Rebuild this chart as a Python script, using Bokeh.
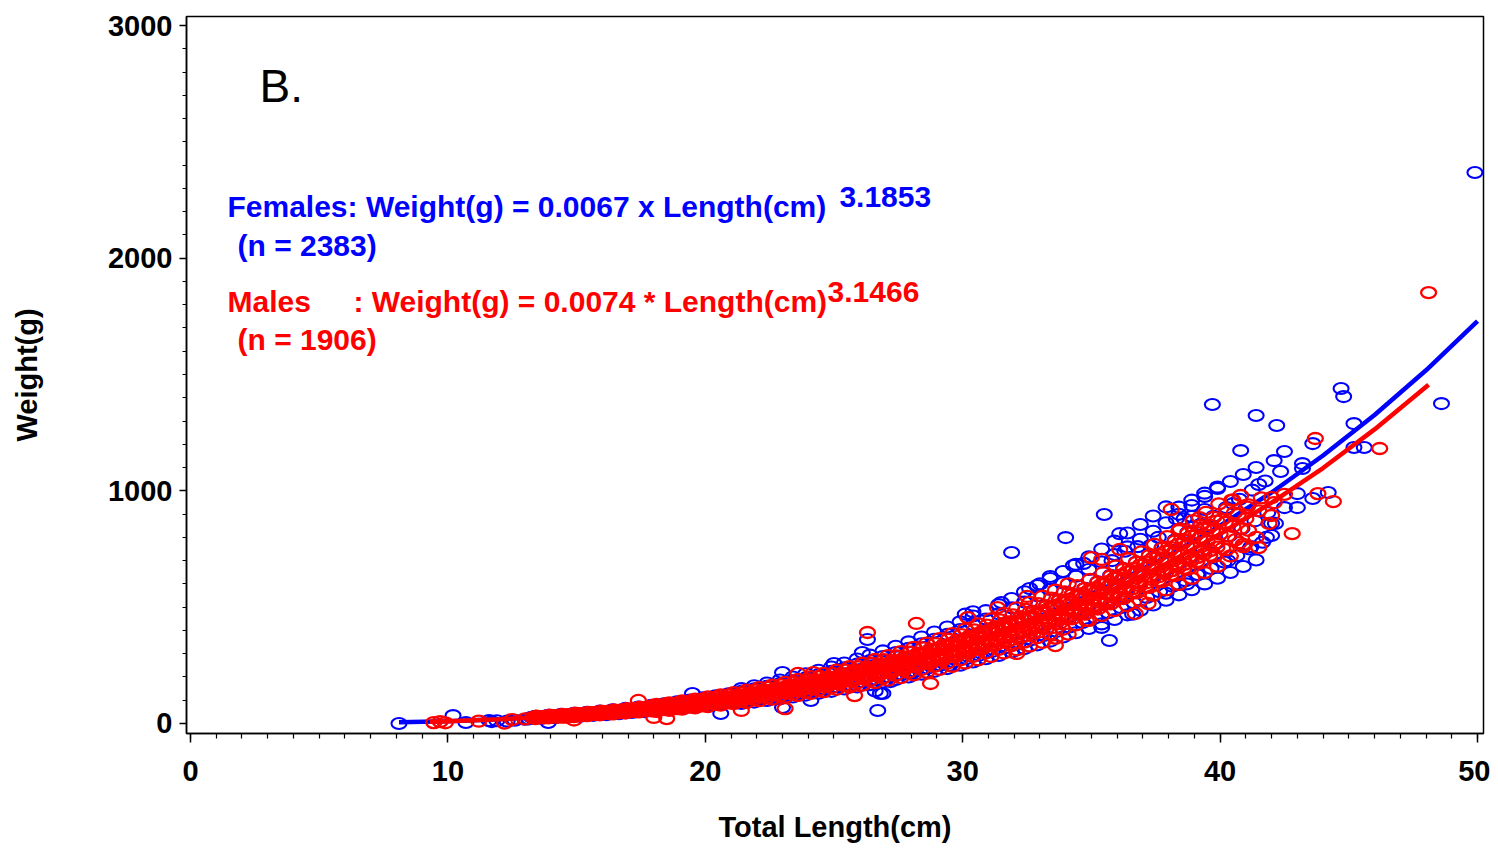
from bokeh.plotting import figure
from bokeh.models import Range1d, SingleIntervalTicker, Label, ColumnDataSource, BasicTickFormatter
from bokeh.embed import file_html
from bokeh.resources import INLINE

# ---------------- data ----------------
# Females (blue) scatter: total length (cm) and weight (g)
fem_len = [
    8.1, 10.2, 10.7, 11.6, 11.9, 11.7, 12.6, 13.0, 13.9, 12.3,
    13.15, 13.35, 13.25, 13.4,
    13.65, 13.85, 13.75, 13.9,
    14.15, 14.35, 14.25, 14.4,
    14.65, 14.85, 14.75, 14.9,
    15.15, 15.35, 15.25, 15.4,
    15.65, 15.85, 15.75, 15.9,
    16.15, 16.35, 16.25, 16.4,
    16.65, 16.85, 16.75, 16.9,
    17.15, 17.35, 17.25, 17.4,
    17.65, 17.85, 17.75, 17.9,
    18.15, 18.35, 18.25, 18.4,
    18.65, 18.85, 18.75, 18.9,
    19.15, 19.35, 19.25, 19.4,
    19.65, 19.85, 19.75, 19.9,
    20.15, 20.35, 20.25, 20.4,
    20.65, 20.85, 20.75, 20.9,
    21.15, 21.35, 21.25, 21.4,
    21.65, 21.85, 21.75, 21.9,
    22.15, 22.35, 22.25, 22.4,
    22.65, 22.85, 22.75, 22.9,
    23.15, 23.35, 23.25, 23.4,
    23.65, 23.85, 23.75, 23.9,
    24.15, 24.35, 24.25, 24.4,
    24.65, 24.85, 24.75, 24.9,
    25.15, 25.35, 25.25, 25.4,
    25.65, 25.85, 25.75, 25.9,
    26.15, 26.35, 26.25, 26.4,
    26.65, 26.85, 26.75, 26.9,
    27.15, 27.35, 27.25, 27.4,
    27.65, 27.85, 27.75, 27.9,
    28.15, 28.35, 28.25, 28.4,
    28.65, 28.85, 28.75, 28.9,
    29.15, 29.35, 29.25, 29.4,
    29.65, 29.85, 29.75, 29.9,
    30.15, 30.35, 30.25, 30.4,
    30.65, 30.85, 30.75, 30.9,
    31.15, 31.35, 31.25, 31.4,
    31.65, 31.85, 31.75, 31.9,
    32.15, 32.35, 32.25, 32.4,
    32.65, 32.85, 32.75, 32.9,
    33.15, 33.35, 33.25, 33.4,
    33.65, 33.85, 33.75, 33.9,
    34.15, 34.35, 34.25, 34.4,
    34.65, 34.85, 34.75, 34.9,
    35.15, 35.35, 35.25, 35.4,
    35.65, 35.85, 35.75, 35.9,
    36.15, 36.35, 36.25, 36.4,
    36.65, 36.85, 36.75, 36.9,
    37.15, 37.35, 37.25, 37.4,
    37.65, 37.85, 37.75, 37.9,
    38.15, 38.35, 38.25, 38.4,
    38.65, 38.85, 38.75, 38.9,
    39.15, 39.35, 39.25, 39.4,
    39.65, 39.85, 39.75, 39.9,
    40.15, 40.35, 40.25,
    40.65, 40.85, 40.75,
    41.15, 41.35, 41.25,
    41.65, 41.85, 41.75,
    42.15, 42.35,
    # scattered / outlying females
    49.9, 48.6, 44.7, 44.8, 39.7, 41.4, 42.2, 40.8, 42.5, 42.1,
    43.2, 43.2, 43.6, 45.2, 45.6, 45.2, 41.5, 43.0, 44.2, 43.6,
    42.5, 43.0, 42.0, 42.0, 40.5, 35.5, 34.0, 31.9, 36.1, 33.4,
    35.7, 35.4, 26.7, 26.6, 26.9, 26.1, 26.3, 23.0, 25.0, 24.1,
    23.0, 20.6, 19.5, 30.1, 30.4, 31.5, 32.6, 33.0, 34.3, 34.7,
    35.8, 36.3, 36.8, 37.3, 37.6, 38.3, 38.6, 38.9, 39.4, 36.6,
    37.9, 38.7, 39.1, 40.3, 41.2, 41.8, 26.8, 28.0, 29.5, 27.2,
]
fem_wt = [
    0, 34, 4, 13, 12, 8, 14, 18, 4, 10,
    20, 24, 27, 31,
    22, 27, 31, 35,
    25, 30, 34, 39,
    28, 33, 38, 44,
    31, 37, 42, 48,
    35, 41, 47, 53,
    38, 45, 52, 59,
    42, 49, 57, 65,
    47, 54, 62, 71,
    51, 60, 68, 78,
    56, 65, 75, 85,
    61, 71, 82, 93,
    66, 77, 89, 101,
    72, 84, 96, 110,
    78, 90, 104, 119,
    84, 98, 112, 128,
    90, 105, 121, 138,
    98, 113, 131, 149,
    105, 122, 140, 160,
    113, 131, 151, 172,
    121, 140, 162, 184,
    129, 150, 172, 196,
    138, 160, 184, 210,
    147, 171, 197, 224,
    157, 182, 210, 239,
    167, 194, 224, 255,
    178, 206, 238, 271,
    189, 219, 253, 288,
    200, 233, 268, 305,
    212, 246, 284, 323,
    225, 261, 301, 343,
    238, 276, 318, 362,
    251, 292, 336, 383,
    265, 308, 354, 404,
    279, 325, 373, 426,
    294, 342, 394, 449,
    310, 360, 414, 472,
    326, 379, 435, 497,
    342, 398, 458, 522,
    360, 419, 482, 549,
    378, 439, 505, 576,
    396, 460, 530, 604,
    415, 483, 555, 633,
    434, 505, 581, 662,
    455, 529, 609, 694,
    476, 553, 637, 726,
    498, 578, 666, 759,
    519, 604, 694, 792,
    542, 630, 724, 826,
    566, 658, 756, 863,
    590, 685, 789, 899,
    614, 714, 822, 937,
    640, 744, 856, 976,
    666, 775, 891, 1016,
    694, 806, 928,
    721, 838, 964,
    750, 871, 1003,
    779, 906, 1042,
    860, 1083,
    2368, 1375, 1440, 1405, 1371, 1324, 1281, 1173, 1169, 1130,
    1117, 1096, 1203, 1289, 1186, 1186, 1027, 988, 993, 967,
    928, 928, 860, 808, 945, 898, 799, 735, 816, 632,
    357, 413, 56, 140, 129, 305, 361, 219, 258, 99,
    69, 43, 129, 470, 480, 520, 580, 600, 679, 688,
    700, 740, 760, 765, 800, 880, 880, 890, 920, 470,
    560, 600, 640, 700, 760, 800, 129, 215, 250, 180,
]

# females along the upper and lower edges of the band
fem_len2 = [
    21.4, 21.4, 21.9, 21.9, 22.4, 22.4, 22.9, 22.9, 23.4, 23.4, 23.9, 23.9,
    24.4, 24.4, 24.9, 24.9, 25.4, 25.4, 25.9, 25.9, 26.4, 26.4, 26.9, 26.9,
    27.4, 27.4, 27.9, 27.9, 28.4, 28.4, 28.9, 28.9, 29.4, 29.4, 29.9, 29.9,
    30.4, 30.4, 30.9, 30.9, 31.4, 31.4, 31.9, 31.9, 32.4, 32.4, 32.9, 32.9,
    33.4, 33.4, 33.9, 33.9, 34.4, 34.4, 34.9, 34.9, 35.4, 35.4, 35.9, 35.9,
    36.4, 36.4, 36.9, 36.9, 37.4, 37.4, 37.9, 37.9, 38.4, 38.4, 38.9, 38.9,
    39.4, 39.4, 39.9, 39.9, 40.4, 40.4, 40.9, 40.9, 41.4, 41.4,
]
fem_wt2 = [
    150, 86, 162, 92, 174, 99, 187, 106, 200, 114, 214, 122,
    229, 130, 243, 138, 260, 148, 277, 157, 294, 167, 312, 178,
    332, 189, 351, 200, 372, 212, 393, 224, 415, 236, 437, 250,
    462, 264, 485, 278, 511, 292, 537, 307, 566, 322, 593, 338,
    623, 354, 653, 372, 684, 390, 716, 408, 750, 428, 784, 447,
    819, 467, 855, 487, 892, 509, 931, 530, 930, 553, 960, 575,
    990, 600, 1010, 624, 1040, 649, 1070, 675, 1100, 703,
]

# Males (red) scatter
male_len = [
    9.45, 9.9, 9.7, 12.2, 12.5, 13.3, 13.0, 14.6, 14.9, 11.2,
    13.4, 13.6, 13.5, 13.55, 13.45,
    13.9, 14.1, 14.0, 14.05, 13.95,
    14.4, 14.6, 14.5, 14.55, 14.45,
    14.9, 15.1, 15.0, 15.05, 14.95,
    15.4, 15.6, 15.5, 15.55, 15.45,
    15.9, 16.1, 16.0, 16.05, 15.95,
    16.4, 16.6, 16.5, 16.55, 16.45,
    16.9, 17.1, 17.0, 17.05, 16.95,
    17.4, 17.6, 17.5, 17.55, 17.45,
    17.9, 18.1, 18.0, 18.05, 17.95,
    18.4, 18.6, 18.5, 18.55, 18.45,
    18.9, 19.1, 19.0, 19.05, 18.95,
    19.4, 19.6, 19.5, 19.55, 19.45,
    19.9, 20.1, 20.0, 20.05, 19.95,
    20.4, 20.6, 20.5, 20.55, 20.45,
    20.9, 21.1, 21.0, 21.05, 20.95,
    21.4, 21.6, 21.5, 21.55, 21.45,
    21.9, 22.1, 22.0, 22.05, 21.95,
    22.4, 22.6, 22.5, 22.55, 22.45,
    22.9, 23.1, 23.0, 23.05, 22.95,
    23.4, 23.6, 23.5, 23.55, 23.45,
    23.9, 24.1, 24.0, 24.05, 23.95,
    24.4, 24.6, 24.5, 24.55, 24.45,
    24.9, 25.1, 25.0, 25.05, 24.95,
    25.4, 25.6, 25.5, 25.55, 25.45,
    25.9, 26.1, 26.0, 26.05, 25.95,
    26.4, 26.6, 26.5, 26.55, 26.45,
    26.9, 27.1, 27.0, 27.05, 26.95,
    27.4, 27.6, 27.5, 27.55, 27.45,
    27.9, 28.1, 28.0, 28.05, 27.95,
    28.4, 28.6, 28.5, 28.55, 28.45,
    28.9, 29.1, 29.0, 29.05, 28.95,
    29.4, 29.6, 29.5, 29.55, 29.45,
    29.9, 30.1, 30.0, 30.05, 29.95,
    30.4, 30.6, 30.5, 30.55, 30.45,
    30.9, 31.1, 31.0, 31.05, 30.95,
    31.4, 31.6, 31.5, 31.55, 31.45,
    31.9, 32.1, 32.0, 32.05, 31.95,
    32.4, 32.6, 32.5, 32.55, 32.45,
    32.9, 33.1, 33.0, 33.05, 32.95,
    33.4, 33.6, 33.5, 33.55, 33.45,
    33.9, 34.1, 34.0, 34.05, 33.95,
    34.4, 34.6, 34.5, 34.55, 34.45,
    34.9, 35.1, 35.0, 35.05, 34.95,
    35.4, 35.6, 35.5, 35.55, 35.45,
    35.9, 36.1, 36.0, 36.05, 35.95,
    36.4, 36.6, 36.5, 36.55, 36.45,
    36.9, 37.1, 37.0, 37.05, 36.95,
    37.4, 37.6, 37.5, 37.55, 37.45,
    37.9, 38.1, 38.0, 38.05, 37.95,
    38.4, 38.6, 38.5, 38.55, 38.45,
    38.9, 39.1, 39.0, 39.05, 38.95,
    39.4, 39.6, 39.5, 39.55, 39.45,
    39.9, 40.1, 40.0, 40.05, 39.95,
    40.4, 40.6, 40.5, 40.55, 40.45,
    40.9, 41.1, 41.0, 41.05,
    41.4, 41.5, 41.6,
    41.9, 42.1,
    42.5,
    # scattered / outlying males
    48.1, 46.2, 44.4, 42.8, 43.7, 43.8, 26.3, 28.2, 28.75, 40.9,
    41.5, 42.0, 42.0, 40.8, 39.2, 38.1, 38.4, 36.7, 37.2, 32.1,
    34.8, 35.0, 35.4, 36.1, 31.35, 32.5, 30.2, 33.6, 25.8, 23.6,
    24.2, 23.1, 21.4, 18.5, 17.4, 18.0, 40.5, 41.1,
]
male_wt = [
    4, 3, 8, 2, 17, 26, 20, 27, 15, 10,
    21, 24, 27, 29, 32,
    24, 27, 30, 33, 36,
    27, 31, 33, 36, 39,
    30, 34, 37, 40, 44,
    34, 38, 41, 44, 48,
    37, 42, 45, 49, 53,
    41, 46, 50, 54, 58,
    45, 51, 55, 59, 64,
    50, 55, 60, 65, 70,
    54, 61, 66, 71, 77,
    60, 66, 72, 77, 84,
    64, 72, 78, 84, 91,
    70, 78, 85, 91, 98,
    76, 85, 92, 99, 107,
    82, 91, 99, 107, 115,
    89, 99, 107, 115, 124,
    95, 106, 115, 124, 134,
    103, 114, 124, 133, 144,
    110, 123, 133, 143, 155,
    118, 132, 143, 154, 166,
    127, 141, 153, 165, 178,
    135, 150, 163, 176, 190,
    144, 160, 174, 187, 202,
    154, 171, 185, 199, 215,
    164, 182, 197, 212, 229,
    174, 194, 210, 226, 244,
    185, 206, 223, 240, 259,
    196, 218, 236, 254, 274,
    208, 231, 250, 269, 290,
    220, 245, 265, 285, 307,
    232, 259, 280, 301, 325,
    246, 274, 296, 318, 343,
    259, 289, 312, 335, 362,
    273, 304, 329, 354, 382,
    288, 321, 347, 373, 402,
    303, 338, 365, 392, 423,
    319, 355, 384, 413, 445,
    335, 373, 403, 433, 467,
    351, 391, 423, 455, 491,
    369, 411, 444, 477, 515,
    386, 430, 465, 500, 539,
    405, 451, 488, 525, 566,
    424, 473, 511, 549, 593,
    443, 494, 534, 574, 619,
    464, 517, 559, 601, 648,
    485, 540, 584, 628, 677,
    506, 564, 610, 656, 708,
    528, 588, 636, 684, 738,
    551, 614, 664, 714, 770,
    574, 640, 692, 744, 803,
    598, 667, 721, 775, 836,
    624, 696, 752, 808, 872,
    649, 723, 782, 841, 907,
    676, 753, 814, 875, 944,
    720, 790, 847, 905, 960,
    760, 830, 880, 930,
    800, 914, 970,
    860, 949,
    985,
    1852, 1182, 954, 816, 1225, 988, 391, 430, 172, 770,
    756, 971, 894, 980, 885, 920, 829, 473, 516, 301,
    443, 713, 705, 748, 498, 546, 455, 335, 120, 215,
    219, 64, 56, 21, 99, 26, 960, 940,
]

# more males in the dense band (between the lengths above)
male_len2 = [
    13.75, 13.8, 13.7, 13.75, 14.25, 14.3, 14.2, 14.25, 14.75, 14.8, 14.7, 14.75,
    15.25, 15.3, 15.2, 15.25, 15.75, 15.8, 15.7, 15.75, 16.25, 16.3, 16.2, 16.25,
    16.75, 16.8, 16.7, 16.75, 17.25, 17.3, 17.2, 17.25, 17.75, 17.8, 17.7, 17.75,
    18.25, 18.3, 18.2, 18.25, 18.75, 18.8, 18.7, 18.75, 19.25, 19.3, 19.2, 19.25,
    19.75, 19.8, 19.7, 19.75, 20.25, 20.3, 20.2, 20.25, 20.75, 20.8, 20.7, 20.75,
    21.25, 21.3, 21.2, 21.25, 21.75, 21.8, 21.7, 21.75, 22.25, 22.3, 22.2, 22.25,
    22.75, 22.8, 22.7, 22.75, 23.25, 23.3, 23.2, 23.25, 23.75, 23.8, 23.7, 23.75,
    24.25, 24.3, 24.2, 24.25, 24.75, 24.8, 24.7, 24.75, 25.25, 25.3, 25.2, 25.25,
    25.75, 25.8, 25.7, 25.75, 26.25, 26.3, 26.2, 26.25, 26.75, 26.8, 26.7, 26.75,
    27.25, 27.3, 27.2, 27.25, 27.75, 27.8, 27.7, 27.75, 28.25, 28.3, 28.2, 28.25,
    28.75, 28.8, 28.7, 28.75, 29.25, 29.3, 29.2, 29.25, 29.75, 29.8, 29.7, 29.75,
    30.25, 30.3, 30.2, 30.25, 30.75, 30.8, 30.7, 30.75, 31.25, 31.3, 31.2, 31.25,
    31.75, 31.8, 31.7, 31.75, 32.25, 32.3, 32.2, 32.25, 32.75, 32.8, 32.7, 32.75,
    33.25, 33.3, 33.2, 33.25, 33.75, 33.8, 33.7, 33.75, 34.25, 34.3, 34.2, 34.25,
    34.75, 34.8, 34.7, 34.75, 35.25, 35.3, 35.2, 35.25, 35.75, 35.8, 35.7, 35.75,
    36.25, 36.3, 36.2, 36.25, 36.75, 36.8, 36.7, 36.75, 37.25, 37.3, 37.2, 37.25,
    37.75, 37.8, 37.7, 37.75, 38.25, 38.3, 38.2, 38.25, 38.75, 38.8, 38.7, 38.75,
    39.25, 39.3, 39.2, 39.25, 39.75, 39.8, 39.7, 39.75, 40.25, 40.3, 40.2, 40.25,
    40.75, 40.8, 40.7,
]
male_wt2 = [
    25, 27, 29, 31, 28, 31, 33, 35, 32, 34, 37, 39,
    35, 38, 41, 43, 39, 42, 45, 48, 43, 46, 50, 53,
    47, 51, 55, 58, 52, 56, 60, 64, 57, 61, 66, 70,
    62, 67, 72, 76, 68, 73, 78, 83, 73, 79, 85, 90,
    79, 86, 92, 98, 86, 93, 99, 106, 93, 100, 107, 114,
    100, 108, 115, 123, 108, 116, 124, 133, 116, 125, 134, 143,
    124, 134, 144, 153, 133, 144, 154, 164, 142, 153, 164, 175,
    152, 163, 175, 187, 162, 174, 187, 199, 172, 185, 199, 212,
    183, 197, 212, 226, 195, 210, 225, 240, 207, 223, 239, 255,
    219, 236, 253, 270, 232, 250, 268, 286, 245, 264, 283, 302,
    259, 279, 300, 320, 274, 295, 316, 337, 288, 311, 333, 356,
    304, 328, 352, 375, 320, 345, 370, 395, 337, 363, 389, 416,
    354, 382, 409, 437, 372, 401, 430, 458, 390, 420, 451, 481,
    409, 441, 473, 504, 429, 462, 496, 529, 450, 485, 519, 554,
    470, 507, 543, 580, 492, 530, 568, 607, 514, 554, 594, 634,
    537, 579, 621, 663, 561, 604, 648, 692, 585, 631, 676, 722,
    610, 658, 705, 753, 636, 685, 735, 784, 663, 714, 766, 818,
    690, 744, 798, 851, 718, 774, 830, 886, 747, 806, 864, 922,
    777, 838, 898,
]

# males along the upper and lower edges of the band
male_len3 = [
    18.1, 18.1, 18.6, 18.6, 19.1, 19.1, 19.6, 19.6, 20.1, 20.1, 20.6, 20.6,
    21.1, 21.1, 21.6, 21.6, 22.1, 22.1, 22.6, 22.6, 23.1, 23.1, 23.6, 23.6,
    24.1, 24.1, 24.6, 24.6, 25.1, 25.1, 25.6, 25.6, 26.1, 26.1, 26.6, 26.6,
    27.1, 27.1, 27.6, 27.6, 28.1, 28.1, 28.6, 28.6, 29.1, 29.1, 29.6, 29.6,
    30.1, 30.1, 30.6, 30.6, 31.1, 31.1, 31.6, 31.6, 32.1, 32.1, 32.6, 32.6,
    33.1, 33.1, 33.6, 33.6, 34.1, 34.1,
]
male_wt3 = [
    82, 52, 89, 57, 97, 62, 105, 67, 114, 73, 123, 79,
    133, 85, 143, 91, 154, 98, 165, 105, 177, 113, 189, 121,
    201, 129, 215, 137, 229, 147, 244, 156, 259, 165, 275, 176,
    292, 186, 309, 197, 327, 209, 345, 221, 365, 233, 386, 246,
    406, 260, 428, 274, 450, 288, 473, 303, 497, 317, 521, 333,
    547, 349, 573, 367, 600, 384,
]

# males filling the middle of the band
male_len4 = [
    15.125, 15.125, 15.375, 15.375, 15.625, 15.625, 15.875, 15.875,
    16.125, 16.125, 16.375, 16.375, 16.625, 16.625, 16.875, 16.875,
    17.125, 17.125, 17.375, 17.375, 17.625, 17.625, 17.875, 17.875,
    18.125, 18.125, 18.375, 18.375, 18.625, 18.625, 18.875, 18.875,
    19.125, 19.125, 19.375, 19.375, 19.625, 19.625, 19.875, 19.875,
    20.125, 20.125, 20.375, 20.375, 20.625, 20.625, 20.875, 20.875,
    21.125, 21.125, 21.375, 21.375, 21.625, 21.625, 21.875, 21.875,
    22.125, 22.125, 22.375, 22.375, 22.625, 22.625, 22.875, 22.875,
    23.125, 23.125, 23.375, 23.375, 23.625, 23.625, 23.875, 23.875,
    24.125, 24.125, 24.375, 24.375, 24.625, 24.625, 24.875, 24.875,
    25.125, 25.125, 25.375, 25.375, 25.625, 25.625, 25.875, 25.875,
    26.125, 26.125, 26.375, 26.375, 26.625, 26.625, 26.875, 26.875,
    27.125, 27.125, 27.375, 27.375, 27.625, 27.625, 27.875, 27.875,
    28.125, 28.125, 28.375, 28.375, 28.625, 28.625, 28.875, 28.875,
    29.125, 29.125, 29.375, 29.375, 29.625, 29.625, 29.875, 29.875,
    30.125, 30.125, 30.375, 30.375, 30.625, 30.625, 30.875, 30.875,
    31.125, 31.125, 31.375, 31.375, 31.625, 31.625, 31.875, 31.875,
    32.125, 32.125, 32.375, 32.375, 32.625, 32.625, 32.875, 32.875,
    33.125, 33.125, 33.375, 33.375, 33.625, 33.625, 33.875, 33.875,
    34.125, 34.125, 34.375, 34.375, 34.625, 34.625, 34.875, 34.875,
    35.125, 35.125, 35.375, 35.375, 35.625, 35.625, 35.875, 35.875,
    36.125, 36.125, 36.375, 36.375, 36.625, 36.625, 36.875, 36.875,
    37.125, 37.125, 37.375, 37.375, 37.625, 37.625, 37.875, 37.875,
    38.125, 38.125, 38.375, 38.375, 38.625, 38.625, 38.875, 38.875,
    39.125, 39.125, 39.375, 39.375, 39.625, 39.625, 39.875, 39.875,
]
male_wt4 = [
    36, 41, 38, 43, 40, 46, 42, 48,
    44, 50, 46, 53, 48, 55, 51, 58,
    53, 61, 55, 64, 58, 67, 61, 70,
    63, 73, 66, 76, 69, 79, 72, 83,
    75, 86, 78, 90, 81, 93, 85, 97,
    88, 101, 91, 105, 95, 109, 99, 113,
    102, 118, 106, 122, 110, 126, 115, 132,
    118, 136, 123, 141, 127, 146, 132, 152,
    137, 157, 141, 163, 146, 168, 151, 173,
    156, 179, 161, 185, 166, 191, 171, 197,
    177, 203, 182, 210, 188, 216, 195, 224,
    200, 230, 207, 238, 212, 244, 219, 252,
    225, 259, 232, 266, 239, 274, 245, 282,
    253, 291, 259, 298, 267, 307, 274, 315,
    282, 324, 290, 333, 297, 341, 306, 351,
    313, 360, 322, 370, 330, 380, 339, 389,
    348, 400, 356, 409, 366, 420, 374, 430,
    384, 441, 393, 451, 402, 462, 413, 474,
    422, 485, 432, 497, 443, 509, 453, 521,
    464, 534, 475, 545, 486, 558, 496, 570,
    508, 583, 520, 597, 531, 610, 543, 624,
    555, 638, 567, 652, 580, 666, 592, 680,
    604, 694, 618, 710, 631, 725, 644, 740,
    657, 755, 671, 771, 685, 787, 699, 804,
    714, 820, 728, 836, 743, 853, 758, 870,
]

# Fitted length-weight curves
fem_fit_len = [8.1, 10, 12, 14, 16, 18, 20, 22, 24, 26, 28, 30, 32, 34, 36, 38, 40, 42, 44, 46, 48, 50]
fem_fit_wt = [5, 10, 18, 30, 46, 67, 93, 127, 167, 216, 273, 340, 417, 507, 608, 722, 850, 993, 1152, 1326, 1518, 1729]
male_fit_len = [9.3, 10, 12, 14, 16, 18, 20, 22, 24, 26, 28, 30, 32, 34, 36, 38, 40, 42, 44, 46, 48.1]
male_fit_wt = [8, 10, 18, 30, 46, 66, 92, 124, 163, 210, 265, 329, 403, 488, 584, 692, 814, 949, 1098, 1264, 1456]

x_ticks_major = 10
y_ticks_major = 1000

BLUE = "#0000FF"
RED = "#FF0000"
FONT = "Liberation Sans"

p = figure(width=1490, height=848, output_backend="svg", toolbar_location=None,
           x_range=Range1d(-0.155, 50.233), y_range=Range1d(-43.0, 3038.7),
           min_border_left=186, min_border_right=7, min_border_top=16, min_border_bottom=115)
p.background_fill_color = "white"
p.border_fill_color = "white"
p.outline_line_color = "black"
p.outline_line_width = 1.5
p.xgrid.visible = False
p.ygrid.visible = False

p.xaxis.ticker = SingleIntervalTicker(interval=x_ticks_major, num_minor_ticks=10)
p.yaxis.ticker = SingleIntervalTicker(interval=y_ticks_major, num_minor_ticks=10)
p.yaxis.formatter = BasicTickFormatter(use_scientific=False)
for ax in (p.xaxis, p.yaxis):
    ax.axis_line_color = "black"
    ax.axis_line_width = 1.5
    ax.major_tick_line_color = "black"
    ax.minor_tick_line_color = "black"
    ax.major_tick_line_width = 1.5
    ax.minor_tick_line_width = 1.2
    ax.major_tick_in = 0
    ax.minor_tick_in = 0
    ax.major_label_text_font = FONT
    ax.major_label_text_font_style = "bold"
    ax.major_label_text_font_size = "29px"
    ax.major_label_text_color = "black"
    ax.axis_label_text_font = FONT
    ax.axis_label_text_font_style = "bold"
    ax.axis_label_text_font_size = "29px"
    ax.axis_label_text_color = "black"

p.xaxis.major_tick_out = 9
p.xaxis.minor_tick_out = 5
p.yaxis.major_tick_out = 7
p.yaxis.minor_tick_out = 4
p.xaxis.major_label_standoff = 18
p.yaxis.major_label_standoff = 7
p.xaxis.axis_label = "Total Length(cm)"
p.yaxis.axis_label = "Weight(g)"
p.xaxis.axis_label_standoff = 27
p.yaxis.axis_label_standoff = 62

fsrc = ColumnDataSource(dict(x=fem_len + fem_len2, y=fem_wt + fem_wt2))
msrc = ColumnDataSource(dict(x=male_len + male_len2 + male_len3 + male_len4,
                             y=male_wt + male_wt2 + male_wt3 + male_wt4))
p.ellipse(x="x", y="y", width=15, height=11, width_units="screen", height_units="screen",
          source=fsrc, fill_color=None, line_color=BLUE, line_width=2.1)
p.line(fem_fit_len, fem_fit_wt, line_color=BLUE, line_width=4.5)
p.line(male_fit_len, male_fit_wt, line_color=RED, line_width=4.5)
p.ellipse(x="x", y="y", width=15, height=11, width_units="screen", height_units="screen",
          source=msrc, fill_color=None, line_color=RED, line_width=2.3)

def lab(x, y, text, color, size="30px", style="bold"):
    p.add_layout(Label(x=x, y=y, text=text, text_color=color, text_font=FONT,
                       text_font_size=size, text_font_style=style,
                       text_baseline="alphabetic", text_align="left"))

lab(2.68, 2741, "B.", "black", size="46px", style="normal")
lab(1.437, 2222, "Females: Weight(g) = 0.0067 x Length(cm)", BLUE)
lab(25.21, 2261, "3.1853", BLUE)
lab(1.826, 2055, "(n = 2383)", BLUE)
lab(1.437, 1814, "Males", RED)
lab(6.33, 1814, ": Weight(g) = 0.0074 * Length(cm)", RED)
lab(24.75, 1853, "3.1466", RED)
lab(1.826, 1651, "(n = 1906)", RED)

open("out.html", "w").write(file_html(p, INLINE))
